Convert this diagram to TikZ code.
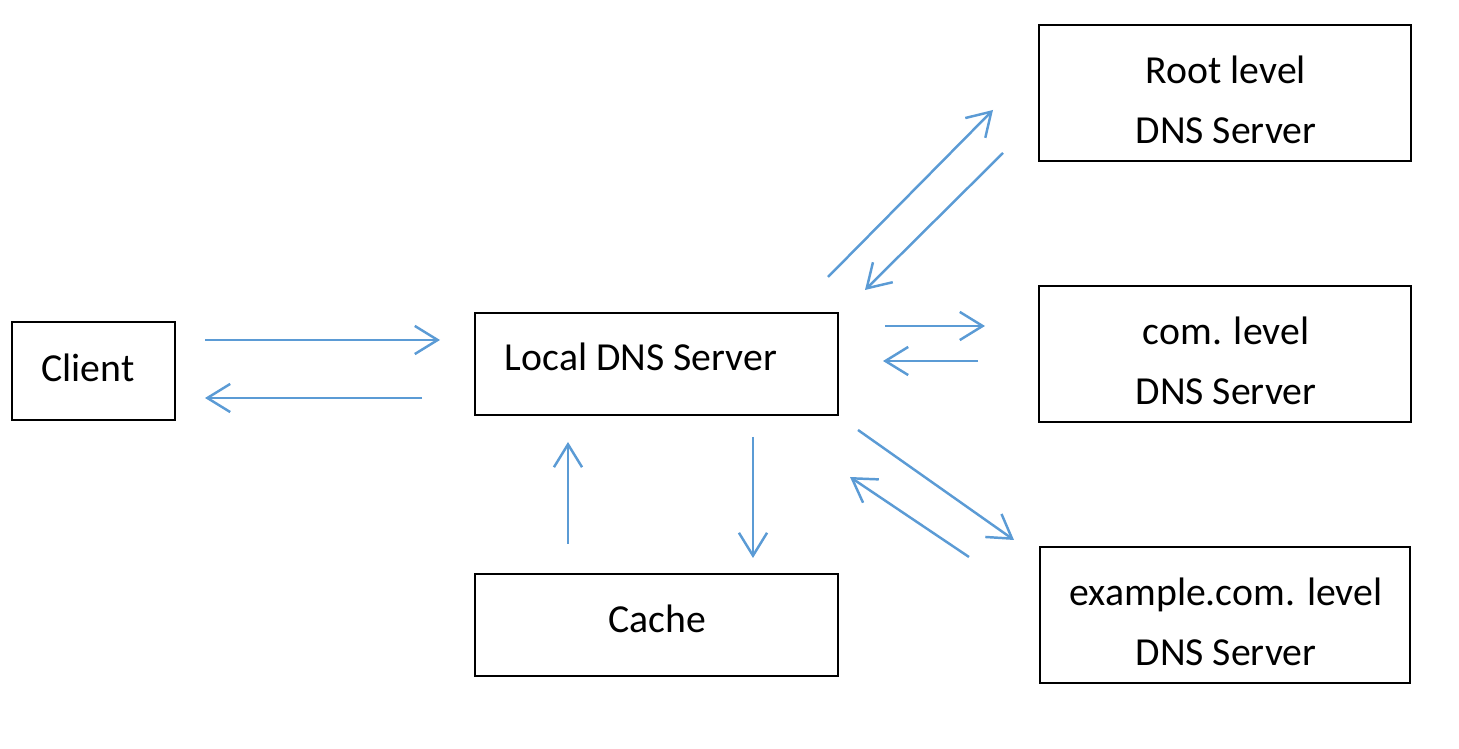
\documentclass[tikz,border=0pt]{standalone}
\usepackage{fontspec}
\setmainfont{Carlito}
\usetikzlibrary{arrows.meta}
\definecolor{arrblue}{HTML}{5B9BD5}
\begin{document}
\begin{tikzpicture}[x=0.01cm,y=-0.01cm,
  box/.style={draw=black,line width=0.75pt,rectangle,inner sep=0pt},
  lbl/.style={inner sep=0pt,align=center,font=\fontsize{11.3}{17.1}\selectfont},
  flow/.style={draw=arrblue,line width=0.7pt,-{Straight Barb[length=6.5pt,width=8pt,line width=0.7pt]}}]
\useasboundingbox (0,0) rectangle (1459,749);
% boxes
\node[box,minimum width=1.63cm,minimum height=0.98cm] (client) at (93.5,371) {};
\node[box,minimum width=3.63cm,minimum height=1.02cm] (local) at (656.5,364) {};
\node[box,minimum width=3.63cm,minimum height=1.02cm] (cache) at (656.5,625) {};
\node[box,minimum width=3.72cm,minimum height=1.36cm] (root) at (1225,93) {};
\node[box,minimum width=3.72cm,minimum height=1.36cm] (com) at (1225,354) {};
\node[box,minimum width=3.70cm,minimum height=1.36cm] (example) at (1225,615) {};
% labels
\node[lbl] (clientt) at (88,368) {Client};
\node[lbl] (localt) at (641,357) {Local DNS Server};
\node[lbl] (cachet) at (657,619) {Cache};
\node[lbl] (roott) at (1226,100) {Root level\\DNS Server};
\node[lbl] (comt) at (1226,361) {com. level\\DNS Server};
\node[lbl] (examplet) at (1226,622) {example.com. level\\DNS Server};
% arrow end points
\coordinate (c1a) at (205,340); \coordinate (c1b) at (440,340);
\coordinate (c2a) at (422,398); \coordinate (c2b) at (205,398);
\coordinate (r1a) at (828,277); \coordinate (r1b) at (993,110);
\coordinate (r2a) at (1003,153); \coordinate (r2b) at (865,290);
\coordinate (m1a) at (885,326); \coordinate (m1b) at (985,326);
\coordinate (m2a) at (978,361); \coordinate (m2b) at (883,361);
\coordinate (e1a) at (858,430); \coordinate (e1b) at (1014,540);
\coordinate (e2a) at (969,557); \coordinate (e2b) at (850,477);
\coordinate (k1a) at (568,544); \coordinate (k1b) at (568,442);
\coordinate (k2a) at (753,437); \coordinate (k2b) at (753,558);
% arrows
\draw[flow] (c1a) -- (c1b);
\draw[flow] (c2a) -- (c2b);
\draw[flow] (r1a) -- (r1b);
\draw[flow] (r2a) -- (r2b);
\draw[flow] (m1a) -- (m1b);
\draw[flow] (m2a) -- (m2b);
\draw[flow] (e1a) -- (e1b);
\draw[flow] (e2a) -- (e2b);
\draw[flow] (k1a) -- (k1b);
\draw[flow] (k2a) -- (k2b);
\end{tikzpicture}
\end{document}
